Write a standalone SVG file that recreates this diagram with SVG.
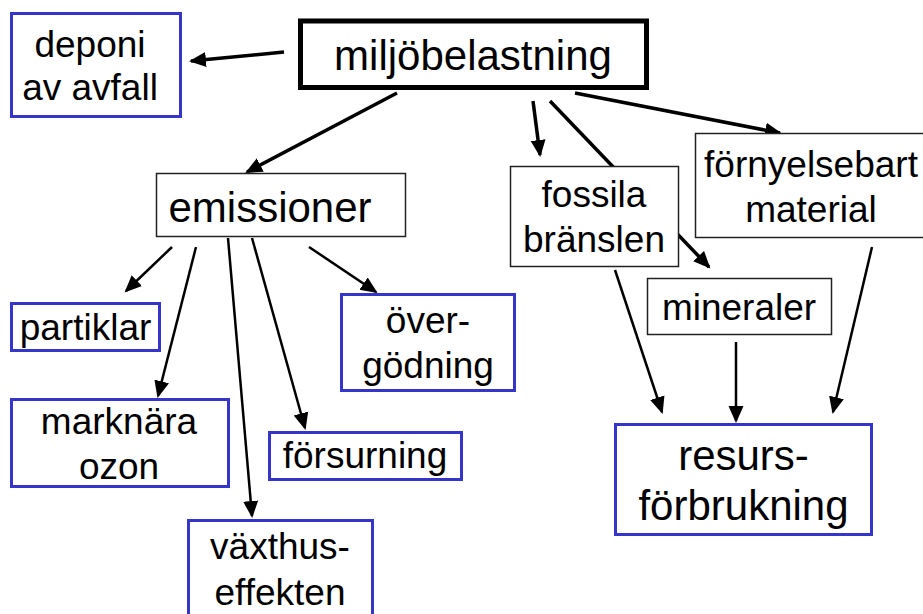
<svg xmlns="http://www.w3.org/2000/svg" width="923" height="614" viewBox="0 0 923 614">
<style>
text{font-family:"Liberation Sans",Arial,sans-serif;fill:#000;text-anchor:middle}
.s{font-size:37px}
.l{font-size:42px}
.blue{fill:#fff;stroke:#3535c8;stroke-width:3}
.blk{fill:#fff;stroke:#222;stroke-width:1.5}
.main{fill:#fff;stroke:#000;stroke-width:5}
.c{stroke:#000;fill:none;marker-end:url(#ah)}
.t{stroke-width:3.5}
.n{stroke-width:2.5}
</style>
<defs>
<marker id="ah" markerUnits="userSpaceOnUse" markerWidth="18" markerHeight="16" viewBox="0 0 18 16" refX="15" refY="8" orient="auto">
<path d="M0,0.5 L17,8 L0,15.5 z" fill="#000"/>
</marker>
</defs>
<rect width="923" height="614" fill="#fff"/>
<g id="connectors">
<line class="c t" x1="284" y1="52" x2="191" y2="61"/>
<line class="c t" x1="397" y1="93" x2="247" y2="172"/>
<line class="c t" x1="533" y1="101" x2="540" y2="155"/>
<line class="c t" x1="550" y1="101" x2="709" y2="267"/>
<line class="c t" x1="575" y1="93" x2="780" y2="133"/>
<line class="c n" x1="172" y1="247" x2="126" y2="291"/>
<line class="c n" x1="196" y1="247" x2="158" y2="396"/>
<line class="c n" x1="228" y1="238" x2="252" y2="516"/>
<line class="c n" x1="252" y1="238" x2="305" y2="428"/>
<line class="c n" x1="309" y1="247" x2="376" y2="292"/>
<line class="c n" x1="615" y1="270" x2="662" y2="412"/>
<line class="c n" x1="736" y1="342" x2="736" y2="421"/>
<line class="c n" x1="872" y1="247" x2="833" y2="412"/>
</g>
<g id="miljobelastning">
<rect class="main" x="300.5" y="21" width="346" height="66.5"/>
<text class="l" x="473" y="70">miljöbelastning</text>
</g>
<g id="deponi">
<rect class="blue" x="11.5" y="13.5" width="169" height="103"/>
<text class="s" x="90" y="57">deponi</text>
<text class="s" x="90" y="100">av avfall</text>
</g>
<g id="emissioner">
<rect class="blk" x="156.5" y="173.5" width="249" height="63"/>
<text class="l" x="270" y="222">emissioner</text>
</g>
<g id="fossila">
<rect class="blk" x="510.5" y="166.5" width="168" height="100"/>
<text class="s" x="594" y="207">fossila</text>
<text class="s" x="594" y="252">bränslen</text>
</g>
<g id="fornyelsebart">
<rect class="blk" x="695.5" y="133.5" width="240" height="104"/>
<text class="s" x="811" y="177">förnyelsebart</text>
<text class="s" x="811" y="222">material</text>
</g>
<g id="mineraler">
<rect class="blk" x="647.5" y="278.5" width="184" height="56"/>
<text class="s" x="739" y="320">mineraler</text>
</g>
<g id="resurs">
<rect class="blue" x="615.5" y="424.5" width="256" height="110"/>
<text class="l" x="743.5" y="470">resurs-</text>
<text class="l" x="743.5" y="520">förbrukning</text>
</g>
<g id="partiklar">
<rect class="blue" x="11.5" y="303.5" width="148" height="47"/>
<text class="s" x="85.5" y="340">partiklar</text>
</g>
<g id="marknara">
<rect class="blue" x="11.5" y="399.5" width="217" height="87"/>
<text class="s" x="119" y="434">marknära</text>
<text class="s" x="119" y="479">ozon</text>
</g>
<g id="forsurning">
<rect class="blue" x="269.5" y="432.5" width="192" height="47"/>
<text class="s" x="365" y="468">försurning</text>
</g>
<g id="vaxthus">
<rect class="blue" x="188.5" y="520.5" width="184" height="110"/>
<text class="s" x="280" y="559">växthus-</text>
<text class="s" x="280" y="605">effekten</text>
</g>
<g id="overgodning">
<rect class="blue" x="341.5" y="294.5" width="173" height="96"/>
<text class="s" x="428" y="333">över-</text>
<text class="s" x="428" y="378">gödning</text>
</g>
</svg>
